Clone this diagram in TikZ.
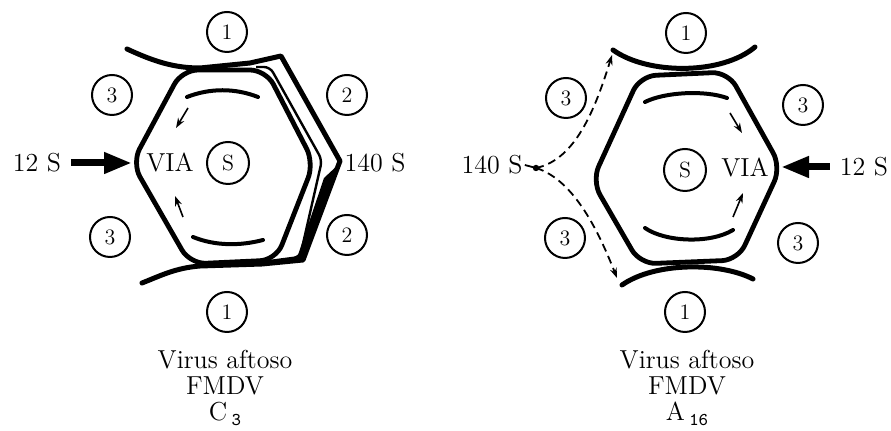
\documentclass[tikz,border=0pt]{standalone}
\usetikzlibrary{arrows.meta}
\begin{document}
\begin{tikzpicture}[x=0.5pt,y=-0.5pt,
  ring/.style={circle,draw,line width=1pt,minimum size=20pt,inner sep=0pt,font=\fontsize{11}{11}\selectfont},
  shell/.style={line width=2.2pt,line join=round,line cap=round},
  capsid/.style={line width=2.4pt,line join=round,line cap=round,rounded corners=8pt},
  inner/.style={line width=2pt,line cap=round},
  flow/.style={line width=0.8pt,-{Stealth[length=5pt,width=3.5pt]}},
  txt/.style={font=\fontsize{13}{13}\selectfont,inner sep=1pt},
  bigarrow/.style={line width=3.5pt,-{Triangle[length=14pt,width=10pt]}},
  dashpath/.style={line width=0.9pt,dash pattern=on 4pt off 2.5pt,-{Stealth[length=5pt,width=3.5pt]}},
]
\useasboundingbox (0,0) rectangle (891,431);

% ---------- left particle (C3) ----------
\coordinate (lL) at (132,163);
\draw[capsid] (lL) -- (182,70) -- (266,70) -- (314,163) -- (276,260) -- (190,264) -- cycle;
% intermediate contour
\draw[line width=1.2pt,line join=round,rounded corners=3pt] (256,67) -- (270,67) -- (322,160) -- (300,257) -- (262,262);
% outer 140 S contour with the neighbouring protomers
\draw[shell,line width=2.5pt] (127,49) .. controls (155,62) and (175,68) .. (200,68) -- (250,63) -- (281,56)
  -- (340,161) -- (303,260) -- (262,264) -- (200,266) .. controls (175,268) and (160,276) .. (142,283);
\fill (324,178) -- (339,164) -- (303,260) -- (297,258) -- cycle;
% inner arcs and turning arrows
\draw[inner] (187,97) .. controls (210,88) and (235,88) .. (258,97);
\draw[inner] (193,237) .. controls (215,246) and (240,246) .. (263,240);
\draw[flow] (188,108) -- (176,128);
\draw[flow] (183,217) -- (175,196);

\node[ring] (l1t) at (227,32) {1};
\node[ring] (l1b) at (227,312) {1};
\node[ring] (l3a) at (112,95) {3};
\node[ring] (l3b) at (110,237) {3};
\node[ring] (l2a) at (347,95) {2};
\node[ring] (l2b) at (347,235) {2};
\node[ring,minimum size=21pt] (lS) at (228,163) {S};
\node[txt] (lvia) at (170,163) {VIA};
\node[txt] (l12) at (37,163) {12 S};
\node[txt] (l140) at (375,163) {140 S};
\draw[bigarrow] ([xshift=4pt]l12.east) -- (lL);

\node[txt,align=center] (lcap) at (225,388) {Virus aftoso\\FMDV\\C\,\raisebox{-0.4ex}{\ttfamily\small 3}};

% ---------- right particle (A16) ----------
\coordinate (rR) at (781,167);
\draw[capsid] (592,181) -- (640,76) -- (728,72) -- (rR) -- (738,260) -- (640,264) -- cycle;
\draw[shell,line width=2.5pt] (613,50) .. controls (648,75) and (722,75) .. (755,47);
\draw[shell,line width=2.5pt] (622,285) .. controls (655,262) and (720,262) .. (753,279);
\draw[inner] (645,102) .. controls (665,92) and (705,90) .. (727,98);
\draw[inner] (645,228) .. controls (665,242) and (710,244) .. (733,230);
\draw[flow] (730,113) -- (742,133);
\draw[flow] (733,217) -- (743,193);

\node[ring] (r1t) at (686,33) {1};
\node[ring] (r1b) at (685,312) {1};
\node[ring] (r3a) at (566,98) {3};
\node[ring] (r3b) at (565,238) {3};
\node[ring] (r3c) at (803,105) {3};
\node[ring] (r3d) at (798,243) {3};
\node[ring,minimum size=21pt] (rS) at (685,170) {S};
\node[txt] (rvia) at (745,168) {VIA};
\node[txt] (r12) at (864,167) {12 S};
\node[txt] (r140) at (492,165) {140 S};
\draw[bigarrow] ([xshift=-4pt]r12.west) -- (rR);

\coordinate (rsrc) at (536,168);
\draw[line width=0.9pt] (r140.east) -- (rsrc);
\fill (rsrc) circle (1.6pt);
\draw[dashpath] (rsrc) .. controls (575,160) and (595,110) .. (612,55);
\draw[dashpath] (rsrc) .. controls (575,180) and (600,235) .. (617,278);

\node[txt,align=center] (rcap) at (687,388) {Virus aftoso\\FMDV\\A\,\raisebox{-0.4ex}{\ttfamily\small 16}};
\end{tikzpicture}
\end{document}
